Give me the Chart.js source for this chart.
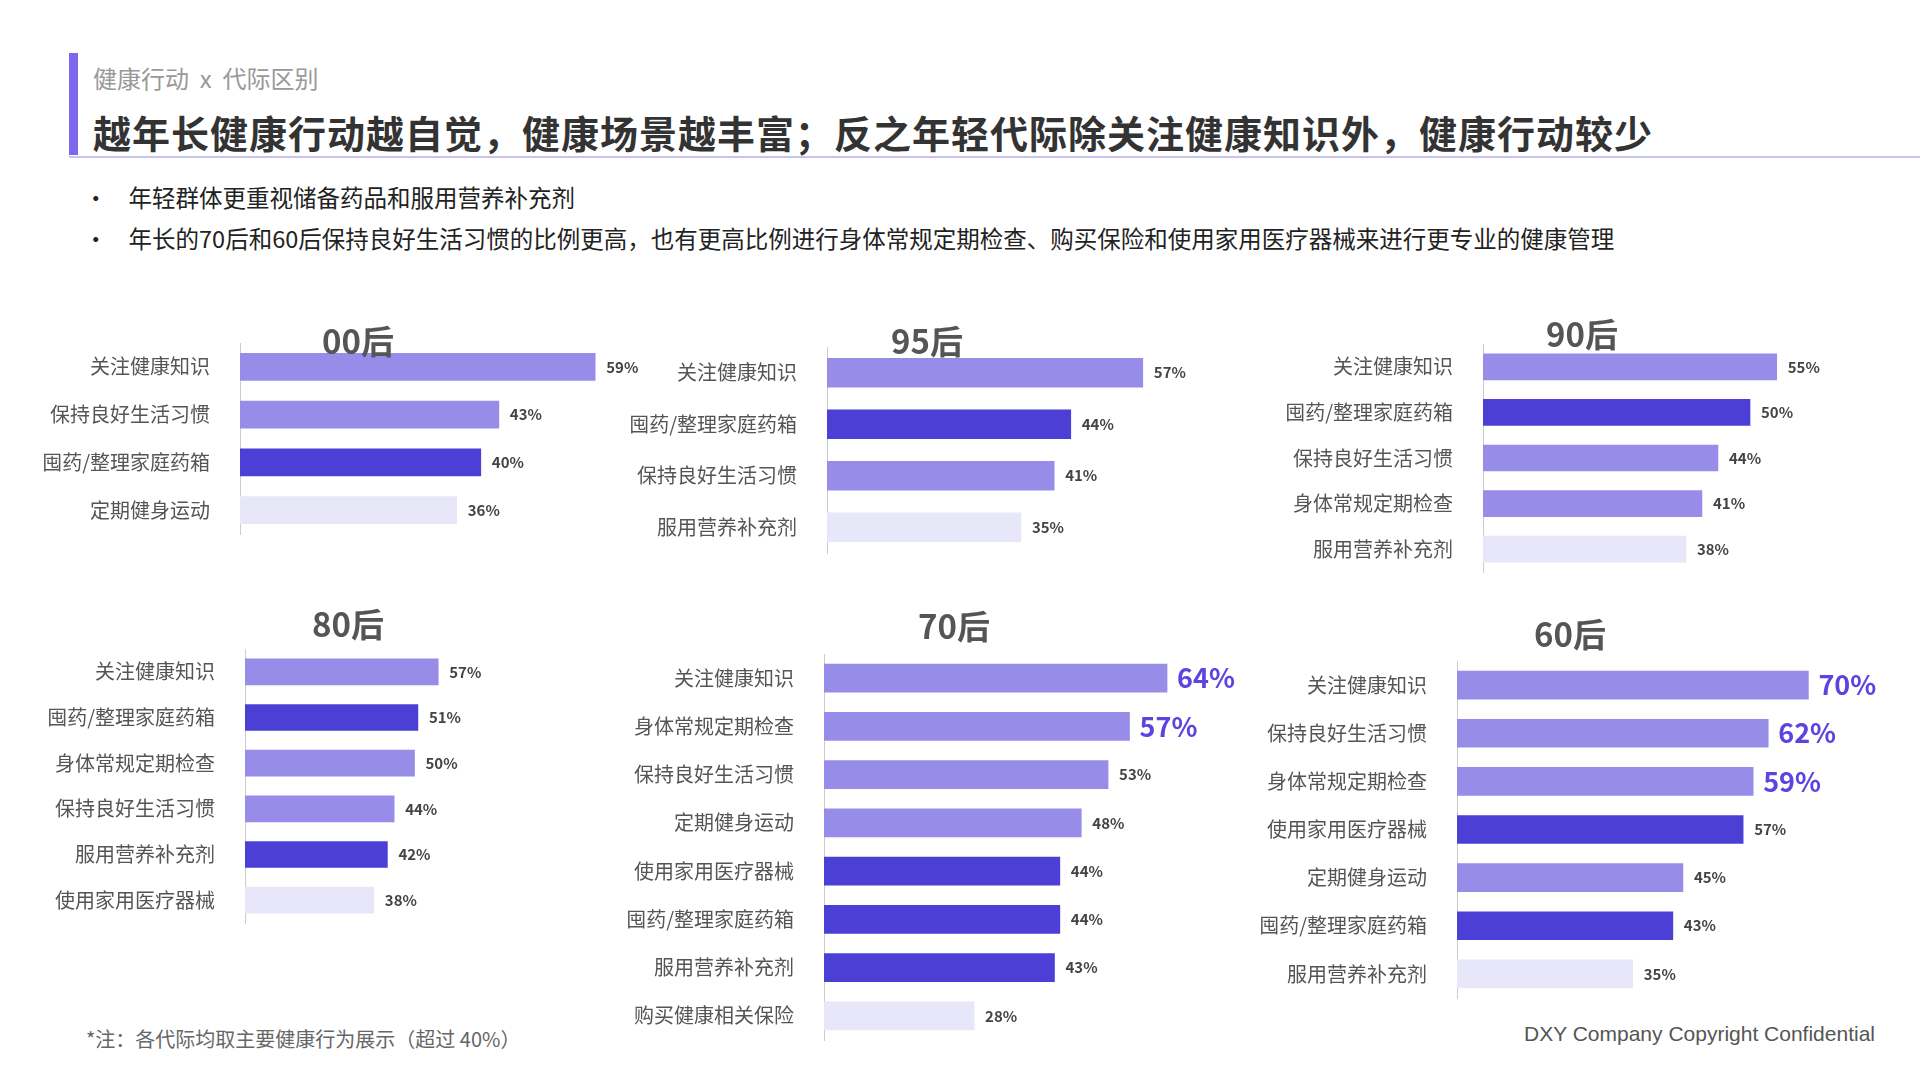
<!DOCTYPE html><html><head><meta charset="utf-8">
<script src="https://cdn.jsdelivr.net/npm/chart.js@4"></script>
<style>
body{margin:0;width:1920px;height:1080px;background:#fff;position:relative;overflow:hidden;font-family:"Noto Sans CJK SC","Noto Sans",sans-serif}
.a{position:absolute;white-space:nowrap}
canvas{position:absolute}
.t{font-weight:bold;font-size:33px;color:#555;transform:translate(-50%,-50%)}
</style></head><body>
<div class="a" style="left:69px;top:53px;width:9px;height:102px;background:#7B68EE"></div>
<div class="a" style="left:93px;top:60px;font-size:24px;color:#999">健康行动 &nbsp;x&nbsp; 代际区别</div>
<div class="a" style="left:93px;top:104px;font-size:38px;font-weight:bold;color:#333;letter-spacing:1px">越年长健康行动越自觉，健康场景越丰富；反之年轻代际除关注健康知识外，健康行动较少</div>
<div class="a" style="left:69px;top:156px;width:1851px;height:2px;background:#C9C3F2"></div>
<div class="a" style="left:84px;top:180px;font-size:23.5px;color:#222">•&nbsp;&nbsp;&nbsp;&nbsp;年轻群体更重视储备药品和服用营养补充剂</div>
<div class="a" style="left:84px;top:221px;font-size:23.5px;color:#222">•&nbsp;&nbsp;&nbsp;&nbsp;年长的70后和60后保持良好生活习惯的比例更高，也有更高比例进行身体常规定期检查、购买保险和使用家用医疗器械来进行更专业的健康管理</div>
<div class="a" style="left:86px;top:1024px;font-size:20px;color:#666">*注：各代际均取主要健康行为展示（超过 40%）</div>
<div class="a" style="right:45px;top:1022px;font-size:21px;color:#555;font-family:'Liberation Sans',Arial">DXY Company Copyright Confidential</div>
<div id="root"></div>
<script>
const M='#978DE8',D='#4B3FD6',L='#E8E6F9';
const cats00=['关注健康知识','保持良好生活习惯','囤药/整理家庭药箱','定期健身运动'];
const vals00=[59,43,40,36];
const cats95=['关注健康知识','囤药/整理家庭药箱','保持良好生活习惯','服用营养补充剂'];
const vals95=[57,44,41,35];
const cats90=['关注健康知识','囤药/整理家庭药箱','保持良好生活习惯','身体常规定期检查','服用营养补充剂'];
const vals90=[55,50,44,41,38];
const cats80=['关注健康知识','囤药/整理家庭药箱','身体常规定期检查','保持良好生活习惯','服用营养补充剂','使用家用医疗器械'];
const vals80=[57,51,50,44,42,38];
const cats70=['关注健康知识','身体常规定期检查','保持良好生活习惯','定期健身运动','使用家用医疗器械','囤药/整理家庭药箱','服用营养补充剂','购买健康相关保险'];
const vals70=[64,57,53,48,44,44,43,28];
const cats60=['关注健康知识','保持良好生活习惯','身体常规定期检查','使用家用医疗器械','定期健身运动','囤药/整理家庭药箱','服用营养补充剂'];
const vals60=[70,62,59,57,45,43,35];
const panels=[
 {title:'00后',tx:358,ty:340,cats:cats00,vals:vals00,col:[M,M,D,L],big:0,ax:240,ppp:6.02,c1:365,cn:513,bt:27},
 {title:'95后',tx:927,ty:340,cats:cats95,vals:vals95,col:[M,D,M,L],big:0,ax:827,ppp:5.54,c1:370,cn:529,bt:29},
 {title:'90后',tx:1582,ty:333,cats:cats90,vals:vals90,col:[M,D,M,M,L],big:0,ax:1483,ppp:5.34,c1:364,cn:551,bt:26},
 {title:'80后',tx:348,ty:623,cats:cats80,vals:vals80,col:[M,D,M,M,D,L],big:0,ax:245,ppp:3.39,c1:669,cn:902,bt:26},
 {title:'70后',tx:954,ty:625,cats:cats70,vals:vals70,col:[M,M,M,M,D,D,D,L],big:2,ax:824,ppp:5.36,c1:675,cn:1018,bt:28},
 {title:'60后',tx:1570,ty:633,cats:cats60,vals:vals60,col:[M,M,M,D,M,D,L],big:3,ax:1457,ppp:5.02,c1:682,cn:976,bt:28}
];
const valPlugin={id:'vl',afterDatasetsDraw(c){const ctx=c.ctx;const meta=c.getDatasetMeta(0);const p=c.options.plugins.vl;
 meta.data.forEach((b,i)=>{const big=i<p.big;ctx.save();ctx.font=big?'bold 27px "Noto Sans CJK SC"':'bold 15px "Noto Sans CJK SC"';ctx.fillStyle=big?'#5B44E0':'#444';ctx.textBaseline='middle';ctx.fillText(c.data.datasets[0].data[i]+'%',b.x+(big?10:11),b.y);ctx.restore();});}};
const root=document.getElementById('root');
const E=31;
panels.forEach(p=>{
 const n=p.cats.length,d=(p.cn-p.c1)/(n-1);
 const left=p.ax-230,areaW=420,top=p.c1-d/2-E,h=Math.round((p.cn-p.c1)+d+2*E);
 const cv=document.createElement('canvas');cv.style.left=left+'px';cv.style.top=top+'px';
 cv.style.width=(230+areaW)+'px';cv.style.height=h+'px';cv.width=230+areaW;cv.height=h;root.appendChild(cv);
 const t=document.createElement('div');t.className='a t';t.style.left=p.tx+'px';t.style.top=p.ty+'px';t.textContent=p.title;root.appendChild(t);
 new Chart(cv,{type:'bar',data:{labels:p.cats,datasets:[{data:p.vals,backgroundColor:p.col,barThickness:p.bt}]},
  options:{indexAxis:'y',responsive:false,maintainAspectRatio:false,animation:false,layout:{padding:0},
   plugins:{legend:{display:false},tooltip:{enabled:false},vl:{big:p.big}},
   scales:{x:{display:false,min:0,max:areaW/p.ppp},
    y:{afterFit:s=>{s.width=230},grid:{display:false},border:{display:true,color:'#ccc'},
     ticks:{color:'#555',font:{size:20,family:'Noto Sans CJK SC'},padding:22}}}},
  plugins:[valPlugin]});
});
</script></body></html>
